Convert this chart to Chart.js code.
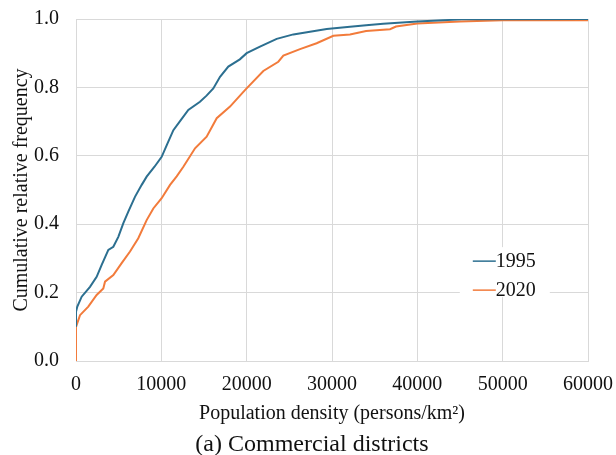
<!DOCTYPE html>
<html>
<head>
<meta charset="utf-8">
<script src="https://cdn.jsdelivr.net/npm/chart.js@4.4.1/dist/chart.umd.min.js"></script>
<style>
  html, body { margin: 0; padding: 0; background: #fff; }
  #wrap { width: 616px; height: 455px; }
</style>
</head>
<body>
<div id="wrap"><canvas id="grafico"></canvas></div>
<script>
// Datos: densidad (x) y frecuencia relativa acumulada (y)
const densidad1995 = [0, 0, 155, 665, 1640, 2420, 3010, 3790, 4375, 4960, 5550, 6130, 6910, 7700, 8280, 9200, 10040, 10700, 11410, 12300, 13160, 14530, 15300, 16090, 16880, 17850, 19200, 20000, 21560, 23520, 25470, 27420, 29380, 32110, 34000, 36000, 40000, 43000, 45200, 60000];
const frecuencia1995 = [0.10, 0.144, 0.159, 0.188, 0.217, 0.246, 0.281, 0.325, 0.334, 0.363, 0.403, 0.437, 0.48, 0.515, 0.539, 0.568, 0.597, 0.635, 0.675, 0.705, 0.734, 0.758, 0.776, 0.797, 0.831, 0.861, 0.882, 0.90, 0.919, 0.942, 0.955, 0.963, 0.971, 0.977, 0.982, 0.986, 0.993, 0.996, 0.999, 1.0];

const densidad2020 = [0, 0, 470, 1440, 2420, 3200, 3400, 4375, 5350, 6330, 7300, 8280, 9060, 10040, 11020, 11800, 12580, 13950, 15310, 16490, 18050, 19800, 21950, 23710, 24300, 26250, 28200, 30160, 32110, 34000, 36800, 37500, 40000, 45000, 50000, 60000];
const frecuencia2020 = [0, 0.10, 0.134, 0.159, 0.193, 0.212, 0.232, 0.251, 0.286, 0.32, 0.359, 0.412, 0.446, 0.476, 0.515, 0.54, 0.568, 0.622, 0.656, 0.71, 0.744, 0.792, 0.848, 0.875, 0.893, 0.912, 0.929, 0.951, 0.955, 0.965, 0.970, 0.978, 0.987, 0.993, 0.996, 0.996];

const series = ['1995', '2020'];
const colores = ['#2c6f90', '#f27b3b'];
const fuente = 'Liberation Serif, Times New Roman, serif';

const puntos = (xs, ys) => xs.map((x, i) => ({ x, y: ys[i] }));

// Leyenda dentro del área del gráfico, con fondo blanco
const leyendaInterna = {
    id: 'leyendaInterna',
    afterDatasetsDraw(chart) {
        const { ctx, scales: { x, y } } = chart;
        const x0 = x.getPixelForValue(46500), y0 = y.getPixelForValue(0.292);
        ctx.save();
        ctx.fillStyle = '#fff';
        ctx.fillRect(x0 - 13, y0 - 14, 90, 50);
        ctx.font = '20px ' + fuente;
        ctx.textBaseline = 'middle';
        series.forEach((s, i) => {
            const yy = y0 + i * 29;
            ctx.strokeStyle = colores[i];
            ctx.lineWidth = 1.5;
            ctx.beginPath(); ctx.moveTo(x0, yy); ctx.lineTo(x0 + 23, yy); ctx.stroke();
            ctx.fillStyle = '#111';
            ctx.fillText(s, x0 + 23, yy + 1);
        });
        ctx.restore();
    }
};

new Chart(document.getElementById('grafico'), {
    type: 'line',
    data: {
        datasets: [
            { label: series[0], data: puntos(densidad1995, frecuencia1995), borderColor: colores[0], borderWidth: 2, pointRadius: 0, tension: 0 },
            { label: series[1], data: puntos(densidad2020, frecuencia2020), borderColor: colores[1], borderWidth: 2, pointRadius: 0, tension: 0 }
        ]
    },
    options: {
        responsive: true, maintainAspectRatio: false, animation: false,
        layout: { padding: { top: 0, right: 0, left: 8, bottom: 0 } },
        scales: {
            x: {
                type: 'linear', min: 0, max: 60000,
                ticks: { stepSize: 10000, color: '#111', font: { family: fuente, size: 20, lineHeight: 2.1 }, padding: 3, maxRotation: 0, callback: v => String(v) },
                grid: { color: '#d9d9d9', drawTicks: false },
                border: { color: '#d9d9d9' },
                title: { display: true, text: 'Population density (persons/km²)', color: '#111', font: { family: fuente, size: 20 }, padding: { top: -7, bottom: -2 } }
            },
            y: {
                min: 0, max: 1,
                ticks: { stepSize: 0.2, color: '#111', font: { family: fuente, size: 20, lineHeight: 0.2 }, padding: 17, callback: v => v.toFixed(1) },
                grid: { color: '#d9d9d9', drawTicks: false },
                border: { color: '#d9d9d9' },
                title: { display: true, text: 'Cumulative relative frequency', color: '#111', font: { family: fuente, size: 20 }, padding: { top: 2, bottom: -17 } }
            }
        },
        plugins: {
            legend: { display: false },
            tooltip: { enabled: false },
            title: { display: true, position: 'bottom', text: '(a) Commercial districts', color: '#111', font: { family: fuente, size: 24, weight: 'normal', lineHeight: 1.0 }, padding: { top: 9, bottom: -2 } }
        }
    },
    plugins: [leyendaInterna]
});
</script>
</body>
</html>
